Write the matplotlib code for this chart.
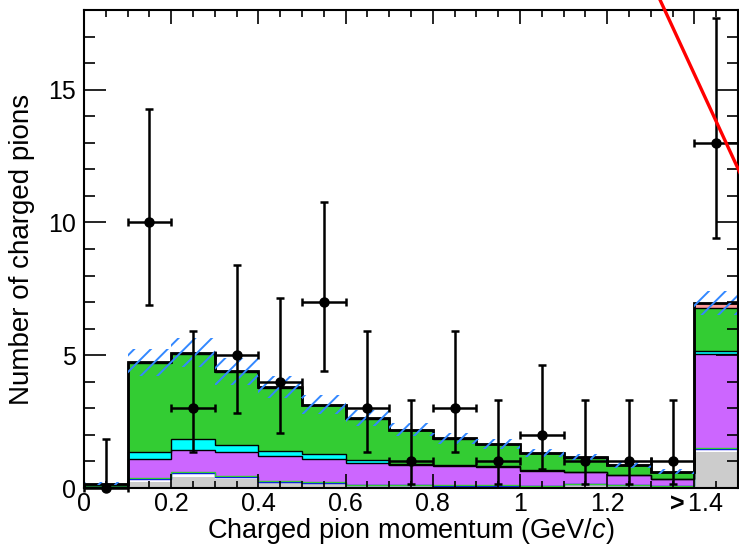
import numpy as np
import matplotlib
matplotlib.use("Agg")
import matplotlib.pyplot as plt
from matplotlib.ticker import MultipleLocator

plt.rcParams['font.family'] = ['Liberation Sans', 'DejaVu Sans']
plt.rcParams['mathtext.fontset'] = 'custom'
plt.rcParams['mathtext.it'] = 'Liberation Sans:style=italic'
plt.rcParams['mathtext.rm'] = 'Liberation Sans'
plt.rcParams['mathtext.bf'] = 'Liberation Sans:weight=bold'

# binning: 15 bins of 0.1 GeV/c, last one is overflow (>1.4)
edges = np.round(np.arange(0, 1.51, 0.1), 2)
centers = 0.5 * (edges[:-1] + edges[1:])

# stacked MC components (bottom -> top)
gray   = [0.00, 0.24, 0.43, 0.33, 0.18, 0.15, 0.06, 0.06, 0.06, 0.06, 0.06, 0.12, 0.08, 0.06, 1.36]
blue   = [0.02, 0.10, 0.12, 0.07, 0.06, 0.05, 0.04, 0.04, 0.03, 0.03, 0.02, 0.04, 0.02, 0.02, 0.10]
lgreen = [0.00, 0.03, 0.05, 0.04, 0.02, 0.02, 0.01, 0.01, 0.01, 0.01, 0.01, 0.01, 0.01, 0.01, 0.03]
purple = [0.00, 0.71, 0.85, 0.92, 0.95, 0.87, 0.84, 0.75, 0.73, 0.70, 0.56, 0.44, 0.38, 0.24, 3.54]
cyan   = [0.00, 0.28, 0.38, 0.26, 0.19, 0.18, 0.10, 0.04, 0.04, 0.02, 0.02, 0.01, 0.01, 0.01, 0.12]
green  = [0.13, 3.35, 3.21, 2.75, 2.38, 1.85, 1.55, 1.28, 0.98, 0.82, 0.63, 0.52, 0.36, 0.27, 1.63]
salmon = [0.01, 0.02, 0.05, 0.02, 0.02, 0.02, 0.02, 0.02, 0.02, 0.02, 0.02, 0.02, 0.01, 0.01, 0.20]
# MC uncertainty (+-) on the total
mc_err = [0.05, 0.50, 0.55, 0.50, 0.40, 0.35, 0.30, 0.25, 0.20, 0.18, 0.15, 0.13, 0.10, 0.08, 0.45]

# data
counts  = [0, 10, 3, 5, 4, 7, 3, 1, 3, 1, 2, 1, 1, 1, 13]
err_lo  = [0.00, 3.11, 1.63, 2.16, 1.91, 2.58, 1.63, 0.83, 1.63, 0.83, 1.29, 0.83, 0.83, 0.83, 3.60]
err_hi  = [1.84, 4.27, 2.92, 3.38, 3.16, 3.77, 2.92, 2.30, 2.92, 2.30, 2.64, 2.30, 2.30, 2.30, 4.70]

# red line leftover at top right
red_x = [1.31, 1.56]
red_y = [18.78, 9.9]

xtick_pos = [0, 0.2, 0.4, 0.6, 0.8, 1.0, 1.2, 1.4]
xtick_lab = ['0', '0.2', '0.4', '0.6', '0.8', '1', '1.2', r'$\mathbf{{>}}$1.4']

fig = plt.figure(figsize=(7.39, 5.5), dpi=100)
ax = fig.add_axes([0.1137, 0.1127, 0.8849, 0.8691])

comps = [(gray, '#cccccc', None), (blue, 'white', '#0000ff'), (lgreen, '#33cc33', '#33cc33'),
         (purple, '#cc66ff', 'black'), (cyan, '#00ffff', 'black'), (green, '#33cc33', 'black'),
         (salmon, '#ff9999', 'black')]
base = np.zeros(len(centers))
for vals, fc, lc in comps:
    top = base + np.array(vals)
    ax.stairs(top, edges, baseline=base, fill=True, color=fc, lw=0, zorder=1)
    if lc is not None:
        ax.stairs(top, edges, baseline=None, color=lc, lw=1.0, zorder=1.2)
    base = top
total = base
ax.stairs(total, edges, baseline=0, color='black', lw=2.0, zorder=1.5)

err = np.array(mc_err)
plt.rcParams['hatch.linewidth'] = 1.4
ax.stairs(total + err, edges, baseline=total - err, fill=True, facecolor='none',
          edgecolor='#3388ff', hatch='//', lw=0, zorder=1.6)

ax.errorbar(centers, counts, yerr=[err_lo, err_hi], xerr=0.05, fmt='o', color='black',
            ms=6.5, elinewidth=1.8, capsize=3, capthick=1.8, zorder=5, clip_on=False)

ax.plot(red_x, red_y, color='red', lw=2.4, zorder=6, clip_on=False)

ax.set_xlim(0, 1.5)
ax.set_ylim(0, 18)
ax.set_xticks(xtick_pos)
ax.set_xticklabels(xtick_lab)
ax.set_yticks([0, 5, 10, 15])
ax.xaxis.set_minor_locator(MultipleLocator(0.05))
ax.yaxis.set_minor_locator(MultipleLocator(1))
ax.set_axisbelow(False)
ax.tick_params(which='both', direction='in', top=True, right=True, width=1.2, labelsize=18)
ax.tick_params(axis='x', which='major', length=10, pad=3)
ax.tick_params(axis='x', which='minor', length=5)
ax.tick_params(axis='y', which='major', length=16, pad=6)
ax.tick_params(axis='y', which='minor', length=8)
for s in ax.spines.values():
    s.set_linewidth(1.5)

ax.set_xlabel('Charged pion momentum (GeV/$c$)', fontsize=19.5, labelpad=0)
ax.set_ylabel('Number of charged pions', fontsize=20, labelpad=9)

fig.savefig('out.png', dpi=100)
